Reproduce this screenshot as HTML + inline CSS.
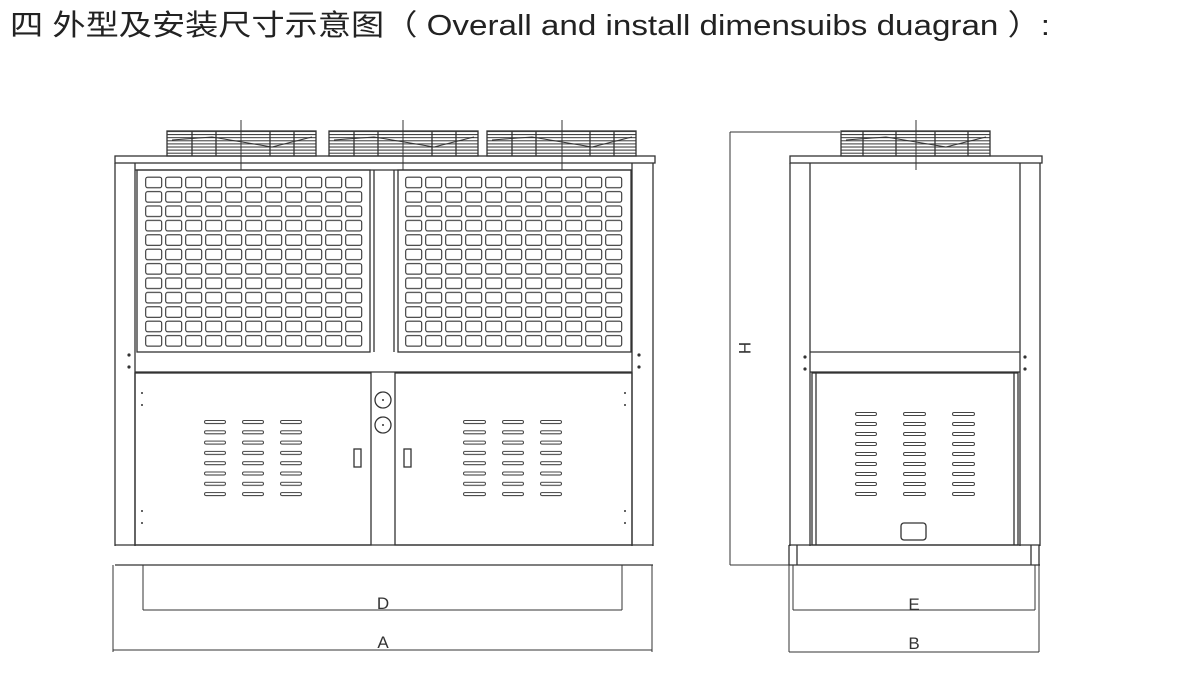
<!DOCTYPE html>
<html><head><meta charset="utf-8"><style>
html,body{margin:0;padding:0;background:#fff;}
svg{display:block;}
</style></head><body>
<svg width="1200" height="674" viewBox="0 0 1200 674" xmlns="http://www.w3.org/2000/svg">
<defs>
<pattern id="grid" patternUnits="userSpaceOnUse" x="145" y="176.5" width="20" height="14.4">
<rect x="0.7" y="0.7" width="16" height="10.5" rx="2" fill="none" stroke="#333" stroke-width="1.1"/>
</pattern>
<pattern id="grid2" patternUnits="userSpaceOnUse" x="405" y="176.5" width="20" height="14.4">
<rect x="0.7" y="0.7" width="16" height="10.5" rx="2" fill="none" stroke="#333" stroke-width="1.1"/>
</pattern>
<pattern id="v1" patternUnits="userSpaceOnUse" x="204" y="420" width="200" height="10.3"><rect x="0.5" y="0.5" width="21" height="3" rx="1.5" fill="none" stroke="#444" stroke-width="1"/></pattern>
<pattern id="v2" patternUnits="userSpaceOnUse" x="242" y="420" width="200" height="10.3"><rect x="0.5" y="0.5" width="21" height="3" rx="1.5" fill="none" stroke="#444" stroke-width="1"/></pattern>
<pattern id="v3" patternUnits="userSpaceOnUse" x="280" y="420" width="200" height="10.3"><rect x="0.5" y="0.5" width="21" height="3" rx="1.5" fill="none" stroke="#444" stroke-width="1"/></pattern>
<pattern id="v4" patternUnits="userSpaceOnUse" x="463" y="420" width="200" height="10.3"><rect x="0.5" y="0.5" width="22" height="3" rx="1.5" fill="none" stroke="#444" stroke-width="1"/></pattern>
<pattern id="v5" patternUnits="userSpaceOnUse" x="502" y="420" width="200" height="10.3"><rect x="0.5" y="0.5" width="21" height="3" rx="1.5" fill="none" stroke="#444" stroke-width="1"/></pattern>
<pattern id="v6" patternUnits="userSpaceOnUse" x="540" y="420" width="200" height="10.3"><rect x="0.5" y="0.5" width="21" height="3" rx="1.5" fill="none" stroke="#444" stroke-width="1"/></pattern>
<pattern id="s1" patternUnits="userSpaceOnUse" x="855" y="412" width="200" height="10"><rect x="0.5" y="0.5" width="21" height="3" rx="1.5" fill="none" stroke="#444" stroke-width="1"/></pattern>
<pattern id="s2" patternUnits="userSpaceOnUse" x="903" y="412" width="200" height="10"><rect x="0.5" y="0.5" width="22" height="3" rx="1.5" fill="none" stroke="#444" stroke-width="1"/></pattern>
<pattern id="s3" patternUnits="userSpaceOnUse" x="952" y="412" width="200" height="10"><rect x="0.5" y="0.5" width="22" height="3" rx="1.5" fill="none" stroke="#444" stroke-width="1"/></pattern>
<pattern id="fan" patternUnits="userSpaceOnUse" x="0" y="131" width="10" height="3.1">
<line x1="0" y1="0.5" x2="10" y2="0.5" stroke="#333" stroke-width="1"/>
</pattern>
</defs>
<text x="10" y="35" font-family="'Liberation Sans','Noto Sans CJK SC',sans-serif" font-size="29" fill="#222" textLength="1040" lengthAdjust="spacingAndGlyphs">四 外型及安装尺寸示意图（ Overall and install dimensuibs duagran ）:</text>

<g fill="none" stroke="#333" stroke-width="1.3">
<rect x="167" y="131" width="149" height="25" fill="url(#fan)"/>
<rect x="329" y="131" width="149" height="25" fill="url(#fan)"/>
<rect x="487" y="131" width="149" height="25" fill="url(#fan)"/>
<path d="M192 131v25M216 131v25M270 131v25M294 131v25M354 131v25M378 131v25M432 131v25M456 131v25M512 131v25M536 131v25M590 131v25M614 131v25"/>
<path d="M172 140l40 -3 60 10 40 -10M334 140l40 -3 60 10 40 -10M492 140l40 -3 60 10 40 -10M846 140l40 -3 60 10 40 -10" stroke-width="1"/>
<path d="M241 120v50M403 120v50M562 120v50" stroke-width="1"/>
<rect x="115" y="156" width="540" height="7"/>
<path d="M115 163v383M135 163v383M653 163v383M632 163v383"/>
<path d="M135 170h497"/>
<rect x="137" y="170" width="233" height="182"/>
<rect x="398" y="170" width="233" height="182"/>
<path d="M374 170v182M394 170v182"/>
<rect x="145" y="176.5" width="220" height="172" fill="url(#grid)" stroke="none"/>
<rect x="405" y="176.5" width="220" height="172" fill="url(#grid2)" stroke="none"/>
<path d="M135 372h497"/>
<rect x="135" y="373" width="236" height="172"/>
<rect x="395" y="373" width="237" height="172"/>
<path d="M115 545h538M115 565h538"/>
<rect x="354" y="449" width="7" height="18"/>
<rect x="404" y="449" width="7" height="18"/>
<circle cx="383" cy="400" r="8"/><circle cx="383" cy="425" r="8"/>
<rect x="204" y="420" width="23" height="78" fill="url(#v1)" stroke="none"/>
<rect x="242" y="420" width="23" height="78" fill="url(#v2)" stroke="none"/>
<rect x="280" y="420" width="23" height="78" fill="url(#v3)" stroke="none"/>
<rect x="463" y="420" width="24" height="78" fill="url(#v4)" stroke="none"/>
<rect x="502" y="420" width="23" height="78" fill="url(#v5)" stroke="none"/>
<rect x="540" y="420" width="23" height="78" fill="url(#v6)" stroke="none"/>
<path d="M143 565v45M622 565v45M143 610h479M113 565v87M652 565v87M113 650h539" stroke-width="1"/>

<rect x="841" y="131" width="149" height="25" fill="url(#fan)"/>
<path d="M863 131v25M896 131v25M935 131v25M968 131v25"/>
<path d="M916 120v50" stroke-width="1"/>
<rect x="790" y="156" width="252" height="7"/>
<path d="M790 163v383M810 163v383M1040 163v383M1020 163v383"/>
<path d="M810 352h210M810 372h210"/>
<rect x="812" y="373" width="206" height="172"/>
<path d="M816 373v172M1014 373v172"/>
<rect x="855" y="412" width="23" height="88" fill="url(#s1)" stroke="none"/>
<rect x="903" y="412" width="24" height="88" fill="url(#s2)" stroke="none"/>
<rect x="952" y="412" width="24" height="88" fill="url(#s3)" stroke="none"/>
<rect x="901" y="523" width="25" height="17" rx="3"/>
<path d="M789 545h251M789 565h251M789 545v20M797 545v20M1031 545v20M1039 545v20"/>
<path d="M730 132h110M730 132v433M730 565h60" stroke-width="1"/>
<path d="M793 565v45M1035 565v45M793 610h242M789 565v87M1039 565v87M789 652h250" stroke-width="1"/>
</g>
<g fill="#333">
<circle cx="129" cy="355" r="1.6"/><circle cx="129" cy="367" r="1.6"/>
<circle cx="639" cy="355" r="1.6"/><circle cx="639" cy="367" r="1.6"/>
<circle cx="142" cy="393" r="1"/><circle cx="142" cy="405" r="1"/>
<circle cx="142" cy="511" r="1"/><circle cx="142" cy="523" r="1"/>
<circle cx="625" cy="393" r="1"/><circle cx="625" cy="405" r="1"/>
<circle cx="625" cy="511" r="1"/><circle cx="625" cy="523" r="1"/>
<circle cx="383" cy="400" r="1"/><circle cx="383" cy="425" r="1"/>
<circle cx="805" cy="357" r="1.6"/><circle cx="805" cy="369" r="1.6"/>
<circle cx="1025" cy="357" r="1.6"/><circle cx="1025" cy="369" r="1.6"/>
</g>
<g font-family="'Liberation Sans',sans-serif" font-size="17" fill="#333" text-anchor="middle">
<text x="383" y="609">D</text>
<text x="383" y="648">A</text>
<text x="914" y="610">E</text>
<text x="914" y="649">B</text>
<text x="0" y="0" transform="translate(739,348) rotate(90)">H</text>
</g>
</svg>
</body></html>
